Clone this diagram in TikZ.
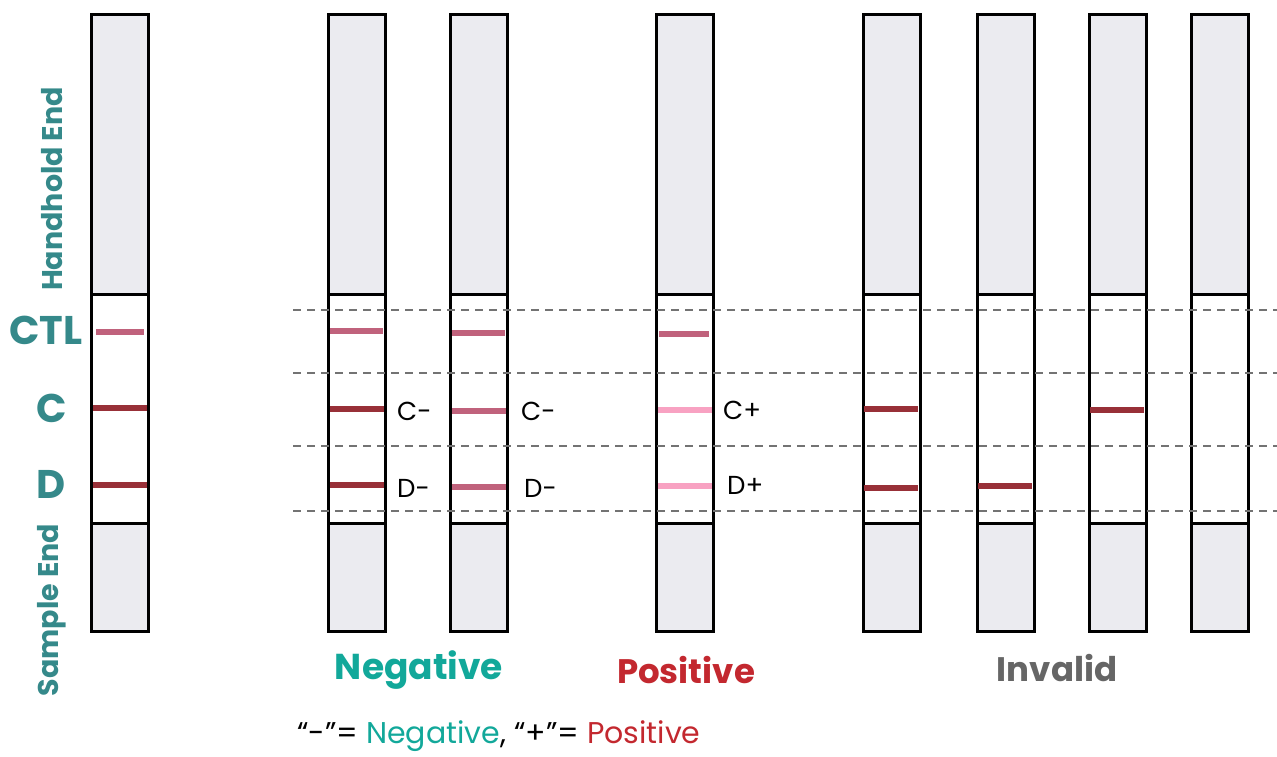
\documentclass[tikz,border=0pt]{standalone}
\usepackage{fontspec}
\setmainfont{Poppins}
\usepackage{xcolor}
\usetikzlibrary{positioning, calc}

\definecolor{stripgray}{HTML}{EBEBF0}
\definecolor{ctlpink}{HTML}{C0627C}
\definecolor{darkband}{HTML}{983038}
\definecolor{lightband}{HTML}{F8A2C2}
\definecolor{tealtext}{HTML}{35898A}
\definecolor{negteal}{HTML}{12A89A}
\definecolor{posred}{HTML}{C3282F}
\definecolor{invgray}{HTML}{666666}

\tikzset{
	casing/.style={draw=black, line width=3pt, fill=stripgray},
	window/.style={draw=black, line width=3pt, fill=white},
	band/.style={line width=6.5pt},
	guide/.style={draw=black!55, line width=2pt, dash pattern=on 8pt off 6pt},
	sidelabel/.style={font=\fontsize{40}{44}\selectfont\bfseries, text=tealtext},
	endlabel/.style={font=\fontsize{28.5}{32}\selectfont\bfseries, text=tealtext, rotate=90},
	bandlabel/.style={font=\fontsize{26}{30}\selectfont, anchor=west, inner sep=0pt},
	group/.style={font=\fontsize{34}{38}\selectfont\bfseries}
}

\begin{document}
\begin{tikzpicture}[x=1pt, y=-1pt]
	\useasboundingbox (0,0) rectangle (1277,756);

	% === STRIPS ===
	% Each strip: handle, reading window, sample pad.
	\foreach \sx/\name in {91/ref, 328/nega, 450/negb, 656/pos, 863/inva, 977/invb, 1089/invc, 1191/invd}{
		\draw[casing] (\sx,14) rectangle ++(57,280);
		\draw[window] (\sx,294) rectangle ++(57,229);
		\draw[casing] (\sx,523) rectangle ++(57,108);
		\coordinate (\name) at (\sx,0);
	}

	% === BANDS ===
	% Reference strip
	\draw[band, ctlpink] ($(ref)+(5,332)$) -- ($(ref)+(53,332)$);
	\draw[band, darkband] ($(ref)+(2,408)$) -- ($(ref)+(56,408)$);
	\draw[band, darkband] ($(ref)+(2,485)$) -- ($(ref)+(56,485)$);
	% Negative results
	\draw[band, ctlpink] ($(nega)+(2,331)$) -- ($(nega)+(55,331)$);
	\draw[band, darkband] ($(nega)+(2,409)$) -- ($(nega)+(56,409)$);
	\draw[band, darkband] ($(nega)+(2,485)$) -- ($(nega)+(56,485)$);
	\draw[band, ctlpink] ($(negb)+(2,333)$) -- ($(negb)+(55,333)$);
	\draw[band, ctlpink] ($(negb)+(2,411)$) -- ($(negb)+(56,411)$);
	\draw[band, ctlpink] ($(negb)+(2,487)$) -- ($(negb)+(56,487)$);
	% Positive result
	\draw[band, ctlpink] ($(pos)+(3,334)$) -- ($(pos)+(53,334)$);
	\draw[band, lightband] ($(pos)+(2,410)$) -- ($(pos)+(56,410)$);
	\draw[band, lightband] ($(pos)+(2,486)$) -- ($(pos)+(56,486)$);
	% Invalid results
	\draw[band, darkband] ($(inva)+(1,409)$) -- ($(inva)+(55,409)$);
	\draw[band, darkband] ($(inva)+(1,488)$) -- ($(inva)+(55,488)$);
	\draw[band, darkband] ($(invb)+(1,486)$) -- ($(invb)+(55,486)$);
	\draw[band, darkband] ($(invc)+(1,410)$) -- ($(invc)+(55,410)$);

	% === GUIDE LINES ===
	\coordinate (gl1) at (293,310);
	\coordinate (gr1) at (1277,310);
	\coordinate (gl2) at (293,373);
	\coordinate (gr2) at (1277,373);
	\coordinate (gl3) at (293,446);
	\coordinate (gr3) at (1277,446);
	\coordinate (gl4) at (293,511);
	\coordinate (gr4) at (1277,511);
	\draw[guide] (gl1) -- (gr1);
	\draw[guide] (gl2) -- (gr2);
	\draw[guide] (gl3) -- (gr3);
	\draw[guide] (gl4) -- (gr4);

	% === LABELS ===
	\node[endlabel] (handhold) at (52,189) {Handhold End};
	\node[endlabel] (sample) at (52,610) {Sample End};
	\node[sidelabel] (ctl) at (46,330) {CTL};
	\node[sidelabel] (cline) at (52,408) {C};
	\node[sidelabel] (dline) at (51,484) {D};

	\node[bandlabel] (cna) at (397,411) {C-};
	\node[bandlabel] (dna) at (397,488) {D-};
	\node[bandlabel] (cnb) at (521,411) {C-};
	\node[bandlabel] (dnb) at (524,488) {D-};
	\node[bandlabel] (cpos) at (723,410) {C+};
	\node[bandlabel] (dpos) at (727,485) {D+};

	\node[group, text=negteal, font=\fontsize{36}{40}\selectfont\bfseries] (negative) at (419,670) {Negative};
	\node[group, text=posred] (positive) at (686,670) {Positive};
	\node[group, text=invgray] (invalid) at (1057,668) {Invalid};

	\node[font=\fontsize{30}{34}\selectfont, anchor=west, inner sep=0pt] (legend) at (297,736)
		{“-”= \textcolor{negteal}{Negative}, “+”= \textcolor{posred}{Positive}};
\end{tikzpicture}
\end{document}
